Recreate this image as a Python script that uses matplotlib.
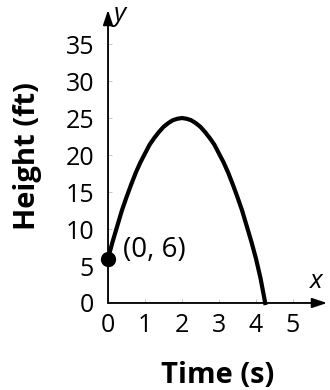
import matplotlib
matplotlib.use('Agg')
import matplotlib.pyplot as plt

# values
time_s = [0, 0.125, 0.25, 0.375, 0.5, 0.625, 0.75, 0.875, 1.0, 1.125, 1.25,
          1.375, 1.5, 1.625, 1.75, 1.875, 2.0, 2.125, 2.25, 2.375, 2.5, 2.625,
          2.75, 2.875, 3.0, 3.125, 3.25, 3.375, 3.5, 3.625, 3.75, 3.875, 4.0,
          4.125, 4.25]
height_ft = [6, 8.3, 10.4, 12.5, 14.3, 16.0, 17.6, 19.0, 20.2, 21.4, 22.3,
             23.1, 23.8, 24.3, 24.7, 24.9, 25, 24.9, 24.7, 24.3, 23.8, 23.1,
             22.3, 21.4, 20.2, 19.0, 17.6, 16.0, 14.3, 12.5, 10.4, 8.3, 6,
             3.3, 0]
start_point = (0, 6)
x_ticks = [0, 1, 2, 3, 4, 5]
y_ticks = [0, 5, 10, 15, 20, 25, 30, 35]

plt.rcParams['font.family'] = ['Open Sans', 'DejaVu Sans']

fig = plt.figure(figsize=(3.3, 3.9), dpi=100)
ax = fig.add_axes([108 / 330, 87 / 390, 219 / 330, 293 / 390])
ax.set_xlim(0, 5.92)
ax.set_ylim(0, 39.6)
for s in ax.spines.values():
    s.set_visible(False)

axis_col = '#777777'
ax.annotate('', xy=(5.92, 0), xytext=(0, 0),
            arrowprops=dict(arrowstyle='-|>,head_length=0.9,head_width=0.3',
                            color='black', lw=1.3, shrinkA=0, shrinkB=0),
            annotation_clip=False)
ax.annotate('', xy=(0, 39.6), xytext=(0, 0),
            arrowprops=dict(arrowstyle='-|>,head_length=0.9,head_width=0.3',
                            color='black', lw=1.3, shrinkA=0, shrinkB=0),
            annotation_clip=False)
ax.plot([0, 5.5], [0, 0], color=axis_col, lw=1.2, zorder=2)
ax.plot([0, 0], [0, 37], color=axis_col, lw=1.2, zorder=2)

ax.plot(time_s, height_ft, color='black', lw=3, zorder=3, clip_on=False,
        solid_joinstyle='round')
ax.plot(*start_point, 'o', color='black', markersize=10, zorder=4, clip_on=False)
ax.text(0.4, 7.1, '(0, 6)', fontsize=20, va='center', ha='left')

ax.set_xticks(x_ticks)
ax.set_yticks(y_ticks)
ax.tick_params(direction='in', length=3, width=0.6, color='#bbbbbb',
               labelsize=18, pad=7)
ax.tick_params(axis='y', pad=10)

ax.text(0.15, 39.0, 'y', fontsize=19, style='italic', va='center', ha='left')
ax.text(5.45, 2.9, 'x', fontsize=19, style='italic', va='center', ha='left')

ax.set_xlabel('Time (s)', fontsize=21, fontweight='bold', labelpad=17)
ax.set_ylabel('Height (ft)', fontsize=21, fontweight='bold', labelpad=17)

plt.savefig('out.png')
